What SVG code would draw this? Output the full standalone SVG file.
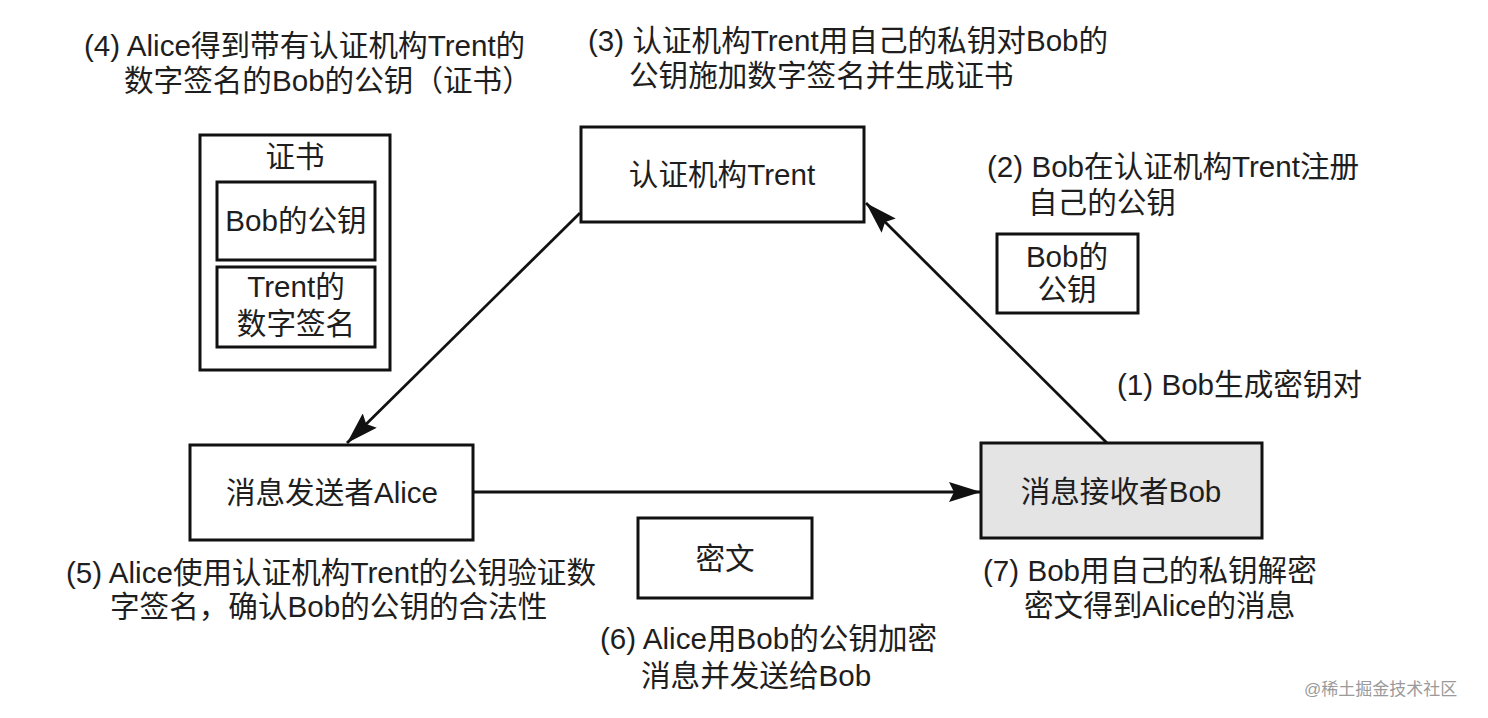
<svg xmlns="http://www.w3.org/2000/svg" width="1488" height="718" viewBox="0 0 1488 718">
  <style>
    text { font-family: "Liberation Sans", "Noto Sans CJK SC", sans-serif; font-size: 29.6px; fill: #1e1e1e; }
    .c { text-anchor: middle; }
    .box { fill: #ffffff; stroke: #111; stroke-width: 3; }
    .gray { fill: #e4e4e4; stroke: #111; stroke-width: 3; }
    .conn { stroke: #111; stroke-width: 2.8; fill: none; marker-end: url(#arrow); }
    .wm { font-size: 17px; fill: #9a9a9a; }
  </style>
  <defs>
    <marker id="arrow" markerUnits="userSpaceOnUse" markerWidth="34" markerHeight="20" refX="32" refY="10" orient="auto">
      <path d="M0,0 L32,10 L0,20 L5,10 z" fill="#111"/>
    </marker>
  </defs>
  <rect width="1488" height="718" fill="#ffffff"/>

  <g id="connectors">
    <line class="conn" x1="580" y1="213" x2="347" y2="443"/>
    <line class="conn" x1="1107" y1="443" x2="866" y2="203"/>
    <line class="conn" x1="473" y1="492" x2="981" y2="492"/>
  </g>

  <g id="trent">
    <rect class="box" x="581" y="127" width="283" height="95"/>
    <text class="c" x="722" y="185">认证机构Trent</text>
  </g>

  <g id="alice">
    <rect class="box" x="190" y="445" width="283" height="95"/>
    <text class="c" x="332" y="503">消息发送者Alice</text>
  </g>

  <g id="bob">
    <rect class="gray" x="981" y="443" width="281" height="95"/>
    <text class="c" x="1121" y="502">消息接收者Bob</text>
  </g>

  <g id="ciphertext">
    <rect class="box" x="638" y="518" width="174" height="80"/>
    <text class="c" x="725" y="569">密文</text>
  </g>

  <g id="bob-pubkey">
    <rect class="box" x="997" y="234" width="141" height="79"/>
    <text class="c" x="1067" y="267">Bob的</text>
    <text class="c" x="1067" y="300">公钥</text>
  </g>

  <g id="certificate">
    <rect class="box" x="200" y="135" width="190" height="235"/>
    <text class="c" x="295" y="167">证书</text>
    <rect class="box" x="217" y="182" width="158" height="78"/>
    <text class="c" x="296" y="231">Bob的公钥</text>
    <rect class="box" x="217" y="267" width="158" height="80"/>
    <text class="c" x="296" y="297">Trent的</text>
    <text class="c" x="296" y="334">数字签名</text>
  </g>

  <g id="labels">
    <text x="84" y="56">(4) Alice得到带有认证机构Trent的</text>
    <text x="124" y="91">数字签名的Bob的公钥（证书）</text>
    <text x="588" y="51">(3) 认证机构Trent用自己的私钥对Bob的</text>
    <text x="629" y="86">公钥施加数字签名并生成证书</text>
    <text x="987" y="177">(2) Bob在认证机构Trent注册</text>
    <text x="1028" y="213">自己的公钥</text>
    <text x="1117" y="395">(1) Bob生成密钥对</text>
    <text x="66" y="583">(5) Alice使用认证机构Trent的公钥验证数</text>
    <text x="110" y="617">字签名，确认Bob的公钥的合法性</text>
    <text x="600" y="649">(6) Alice用Bob的公钥加密</text>
    <text x="641" y="686">消息并发送给Bob</text>
    <text x="983" y="581">(7) Bob用自己的私钥解密</text>
    <text x="1024" y="616">密文得到Alice的消息</text>
    <text class="wm" x="1304" y="695">@稀土掘金技术社区</text>
  </g>
</svg>
